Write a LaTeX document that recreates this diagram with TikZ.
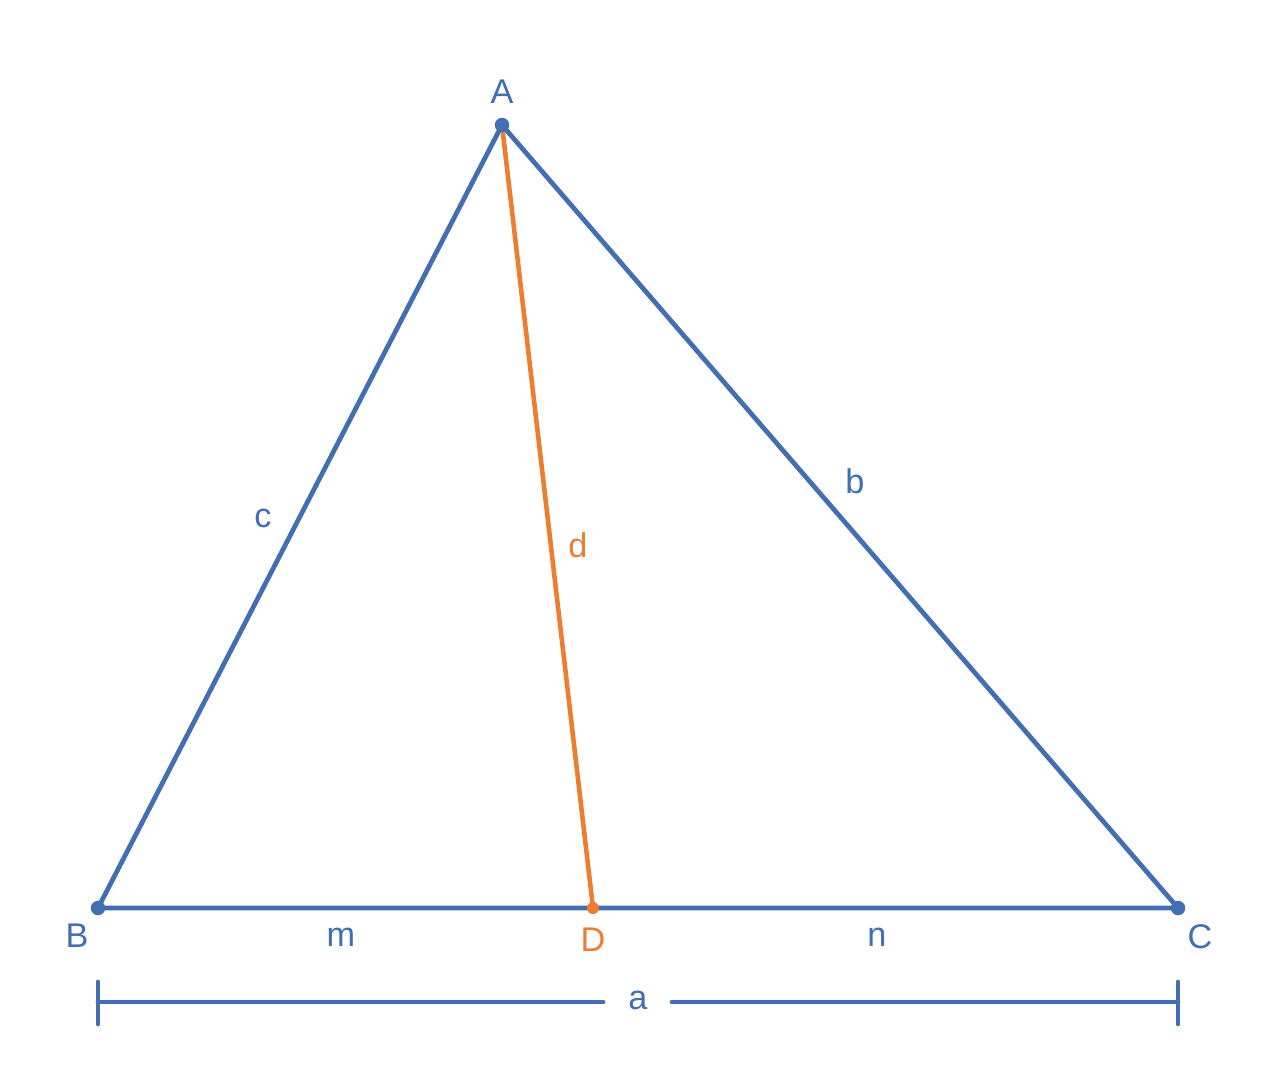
\documentclass[tikz,border=0pt]{standalone}
\usepackage{fontspec}
\setmainfont{Liberation Sans}
\definecolor{triblue}{RGB}{66,110,178}
\definecolor{triorange}{RGB}{237,125,49}
\tikzset{
	side/.style={triblue,line width=2.7pt,line cap=round},
	cevian/.style={triorange,line width=2.6pt,line cap=round},
	vertex/.style={circle,fill=#1,inner sep=0pt,minimum size=0.29cm},
	lbl/.style={text=#1,font=\fontsize{19.5}{24}\selectfont,inner sep=0pt},
}
\begin{document}
\begin{tikzpicture}[x=0.02cm,y=-0.02cm]
	\useasboundingbox (0,0) rectangle (1266,1090);
	% vertices
	\coordinate (A) at (502,125);
	\coordinate (B) at (98,908);
	\coordinate (C) at (1178,908);
	\coordinate (D) at (593,908);
	% triangle and cevian
	\draw[side] (B) -- (A) -- (C) -- cycle;
	\draw[cevian] (A) -- (D);
	\node[vertex=triblue] (dA) at (A) {};
	\node[vertex=triblue] (dB) at (B) {};
	\node[vertex=triblue] (dC) at (C) {};
	\node[vertex=triorange,minimum size=0.24cm] (dD) at (D) {};
	% labels
	\node[lbl=triblue] (lA) at (502,92) {A};
	\node[lbl=triblue] (lB) at (77,936) {B};
	\node[lbl=triblue] (lC) at (1200,937) {C};
	\node[lbl=triorange] (lD) at (593,940) {D};
	\node[lbl=triblue] (lc) at (263,518) {c};
	\node[lbl=triblue] (lb) at (855,481) {b};
	\node[lbl=triorange] (ld) at (578,545) {d};
	\node[lbl=triblue] (lm) at (341,937) {m};
	\node[lbl=triblue] (ln) at (877,937) {n};
	% dimension line for a
	\coordinate (aL) at (98,1002);
	\coordinate (aR) at (1178,1002);
	\coordinate (gL) at (603,1002);
	\coordinate (gR) at (672,1002);
	\node[lbl=triblue] (la) at (638,1000) {a};
	\draw[side] (aL) -- (gL);
	\draw[side] (gR) -- (aR);
	\draw[side] ([yshift=0.4cm]aL) -- ([yshift=-0.44cm]aL);
	\draw[side] ([yshift=0.4cm]aR) -- ([yshift=-0.44cm]aR);
\end{tikzpicture}
\end{document}
